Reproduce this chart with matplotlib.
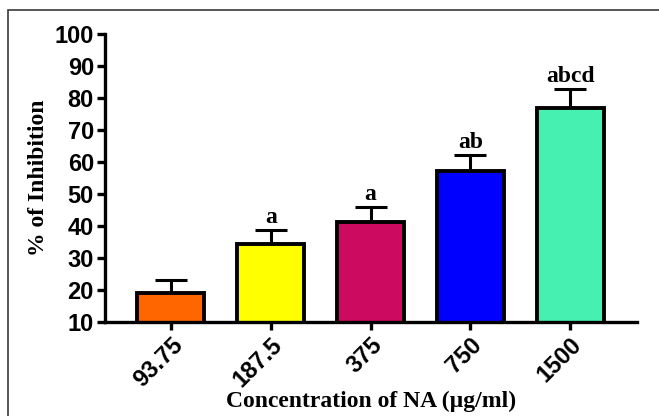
import numpy as np
import matplotlib.pyplot as plt
from matplotlib.patches import Rectangle

# data
concentrations = ['93.75', '187.5', '375', '750', '1500']
inhibition = [19.0, 34.3, 41.3, 57.3, 76.8]
sem = [4.2, 4.4, 4.6, 4.8, 6.0]
letters = ['', 'a', 'a', 'ab', 'abcd']
colors = ['#FF6600', '#FFFF00', '#CC0A5F', '#0000FF', '#45F0B0']

fig = plt.figure(figsize=(6.59, 4.16), dpi=100)
ax = fig.add_axes([105 / 659, 1 - 322 / 416, (637 - 105) / 659, (322 - 34) / 416])

# frame around the whole picture (only top and left visible)
fig.patches.append(Rectangle((8 / 659, -0.1), 1.1, 1 - 10 / 416 + 0.1,
                             transform=fig.transFigure, fill=False,
                             edgecolor='#3a3a3a', linewidth=1.2))

x = np.arange(len(concentrations))
ax.bar(x, inhibition, width=0.67, color=colors, edgecolor='black',
       linewidth=2.8, bottom=0, zorder=2)
ax.errorbar(x, inhibition, yerr=[np.zeros(len(sem)), sem], fmt='none',
            ecolor='black', elinewidth=2.2, capsize=11.5, capthick=2.2, zorder=1)

for xi, v, s, t in zip(x, inhibition, sem, letters):
    if t:
        ax.text(xi, v + s + 0.6, t, ha='center', va='bottom',
                family='Liberation Serif', fontweight='bold', fontsize=17)

ax.set_xlim(-0.66, 4.67)
ax.set_ylim(10, 100)
ax.set_yticks(np.arange(10, 101, 10))
ax.set_xticks(x)
ax.set_xticklabels(concentrations, rotation=45, ha='right', rotation_mode='anchor')

for lab in ax.get_xticklabels() + ax.get_yticklabels():
    lab.set_family('Liberation Sans')
    lab.set_fontweight('bold')
    lab.set_fontsize(17)

ax.spines['top'].set_visible(False)
ax.spines['right'].set_visible(False)
ax.spines['left'].set_linewidth(2.4)
ax.spines['bottom'].set_linewidth(2.4)
ax.tick_params(axis='both', width=2.4, length=6, direction='out', pad=2)

ax.set_xlabel('Concentration of NA (µg/ml)', family='Liberation Serif',
              fontweight='bold', fontsize=17, labelpad=0)
ax.set_ylabel('% of Inhibition', family='Liberation Serif',
              fontweight='bold', fontsize=17, labelpad=4)

fig.savefig('out.png', dpi=100)
